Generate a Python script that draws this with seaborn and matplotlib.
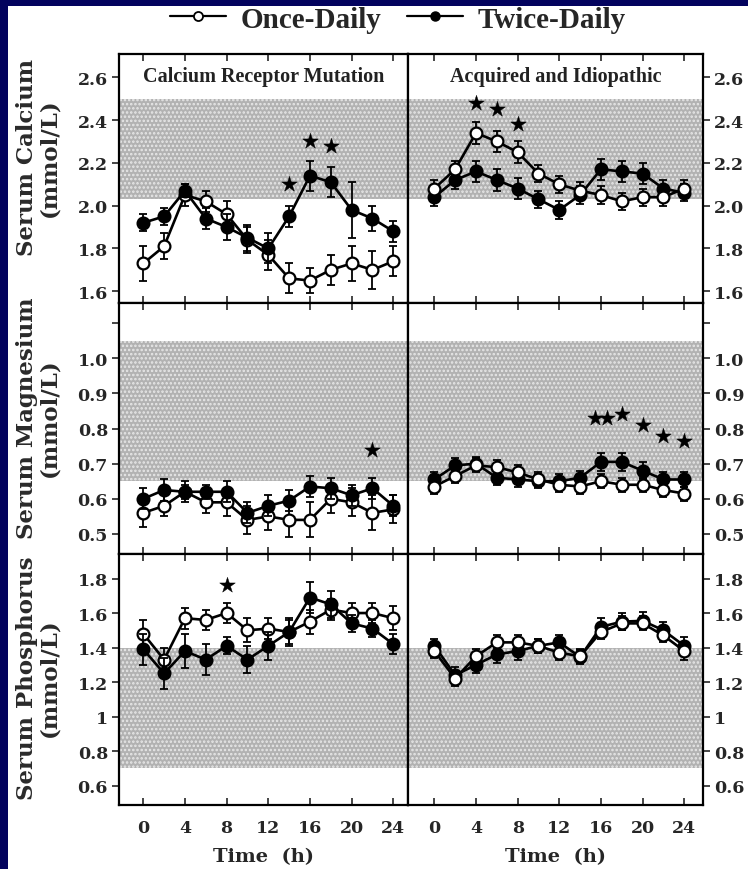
import matplotlib
matplotlib.use("Agg")
import numpy as np
import pandas as pd
import seaborn as sns
import matplotlib.pyplot as plt
from matplotlib.lines import Line2D
from matplotlib.patches import Rectangle

# ---------------- data ----------------
hours = [0, 2, 4, 6, 8, 10, 12, 14, 16, 18, 20, 22, 24]
xtick_vals = [0, 4, 8, 12, 16, 20, 24]

# Serum calcium (mmol/L)
ca_crm_once = [1.73, 1.81, 2.05, 2.02, 1.96, 1.84, 1.77, 1.66, 1.65, 1.70, 1.73, 1.70, 1.74]
ca_crm_once_err = [0.08, 0.06, 0.05, 0.05, 0.06, 0.06, 0.07, 0.07, 0.06, 0.07, 0.08, 0.09, 0.07]
ca_crm_twice = [1.92, 1.95, 2.07, 1.94, 1.90, 1.85, 1.80, 1.95, 2.14, 2.11, 1.98, 1.94, 1.88]
ca_crm_twice_err = [0.04, 0.04, 0.03, 0.05, 0.06, 0.06, 0.07, 0.05, 0.07, 0.07, 0.13, 0.06, 0.05]
ca_ai_once = [2.08, 2.17, 2.34, 2.30, 2.25, 2.15, 2.10, 2.07, 2.05, 2.02, 2.04, 2.04, 2.08]
ca_ai_once_err = [0.04, 0.04, 0.05, 0.05, 0.05, 0.04, 0.04, 0.04, 0.04, 0.04, 0.04, 0.04, 0.04]
ca_ai_twice = [2.04, 2.12, 2.16, 2.12, 2.08, 2.03, 1.98, 2.05, 2.17, 2.16, 2.15, 2.08, 2.06]
ca_ai_twice_err = [0.04, 0.04, 0.05, 0.05, 0.05, 0.04, 0.04, 0.04, 0.05, 0.05, 0.05, 0.04, 0.04]

# Serum magnesium (mmol/L)
mg_crm_once = [0.56, 0.58, 0.62, 0.59, 0.59, 0.54, 0.55, 0.54, 0.54, 0.60, 0.59, 0.56, 0.57]
mg_crm_once_err = [0.04, 0.03, 0.03, 0.03, 0.04, 0.04, 0.04, 0.05, 0.05, 0.04, 0.04, 0.05, 0.04]
mg_crm_twice = [0.60, 0.625, 0.62, 0.62, 0.62, 0.56, 0.58, 0.595, 0.635, 0.63, 0.61, 0.63, 0.58]
mg_crm_twice_err = [0.03, 0.03, 0.02, 0.02, 0.03, 0.03, 0.03, 0.03, 0.03, 0.03, 0.03, 0.03, 0.03]
mg_ai_once = [0.635, 0.665, 0.695, 0.69, 0.675, 0.655, 0.64, 0.635, 0.65, 0.64, 0.64, 0.625, 0.615]
mg_ai_once_err = [0.02, 0.02, 0.02, 0.02, 0.02, 0.02, 0.02, 0.02, 0.02, 0.02, 0.02, 0.02, 0.02]
mg_ai_twice = [0.655, 0.695, 0.70, 0.66, 0.655, 0.65, 0.65, 0.66, 0.705, 0.705, 0.68, 0.655, 0.655]
mg_ai_twice_err = [0.02, 0.02, 0.02, 0.02, 0.02, 0.02, 0.02, 0.02, 0.025, 0.025, 0.025, 0.02, 0.02]

# Serum phosphorus (mmol/L)
ph_crm_once = [1.48, 1.33, 1.57, 1.56, 1.60, 1.50, 1.51, 1.49, 1.55, 1.62, 1.60, 1.60, 1.57]
ph_crm_once_err = [0.08, 0.07, 0.06, 0.06, 0.06, 0.07, 0.06, 0.07, 0.07, 0.06, 0.06, 0.06, 0.07]
ph_crm_twice = [1.39, 1.25, 1.38, 1.33, 1.41, 1.33, 1.41, 1.49, 1.69, 1.65, 1.54, 1.51, 1.42]
ph_crm_twice_err = [0.09, 0.09, 0.10, 0.09, 0.05, 0.08, 0.08, 0.08, 0.09, 0.08, 0.05, 0.05, 0.06]
ph_ai_once = [1.38, 1.22, 1.35, 1.43, 1.43, 1.41, 1.37, 1.35, 1.49, 1.54, 1.54, 1.47, 1.38]
ph_ai_once_err = [0.04, 0.04, 0.04, 0.04, 0.04, 0.04, 0.04, 0.04, 0.04, 0.04, 0.04, 0.04, 0.05]
ph_ai_twice = [1.41, 1.24, 1.30, 1.36, 1.38, 1.41, 1.43, 1.345, 1.52, 1.55, 1.555, 1.50, 1.41]
ph_ai_twice_err = [0.04, 0.05, 0.05, 0.05, 0.05, 0.04, 0.04, 0.04, 0.05, 0.05, 0.05, 0.05, 0.05]

# significance stars (x, y)
stars_ca_crm = ([14, 16, 18], [2.10, 2.30, 2.28])
stars_ca_ai = ([4, 6, 8], [2.48, 2.45, 2.38])
stars_mg_crm = ([22], [0.74])
stars_mg_ai = ([15.4, 16.6, 18, 20, 22, 24], [0.83, 0.83, 0.84, 0.81, 0.78, 0.765])
stars_ph_crm = ([8], [1.76])
stars_ph_ai = ([], [])

# normal ranges
ca_normal = (2.03, 2.50)
mg_normal = (0.65, 1.05)
ph_normal = (0.70, 1.40)

row_labels = ["Serum Calcium\n(mmol/L)", "Serum Magnesium\n(mmol/L)", "Serum Phosphorus\n(mmol/L)"]
panel_titles = ["Calcium Receptor Mutation", "Acquired and Idiopathic"]
legend_labels = ["Once-Daily", "Twice-Daily"]

ca_ticks = [1.6, 1.8, 2.0, 2.2, 2.4, 2.6]
ca_ticklabels = ["1.6", "1.8", "2.0", "2.2", "2.4", "2.6"]
mg_ticks = [0.5, 0.6, 0.7, 0.8, 0.9, 1.0, 1.1]
mg_ticklabels = ["0.5", "0.6", "0.7", "0.8", "0.9", "1.0", ""]
ph_ticks = [0.6, 0.8, 1.0, 1.2, 1.4, 1.6, 1.8]
ph_ticklabels = ["0.6", "0.8", "1", "1.2", "1.4", "1.6", "1.8"]

# ---------------- figure ----------------
sns.set_theme(style="white")
plt.rcParams["font.family"] = ["DejaVu Serif"]
plt.rcParams["hatch.linewidth"] = 1.2

W, H = 748, 870
fig = plt.figure(figsize=(W / 100, H / 100), dpi=100, facecolor="white")


def ax_at(x0, y0, x1, y1):
    return fig.add_axes([x0 / W, 1 - y1 / H, (x1 - x0) / W, (y1 - y0) / H])


rows_px = [(55, 304), (304, 555), (555, 806)]
cols_px = [(119, 408), (408, 703)]
xlims = [(-2.33, 25.41), (-2.53, 25.8)]
ylims = [(1.545, 2.709), (0.443, 1.157), (0.488, 1.942)]
label_centers = [158, 418, 678]

series = [
    [(ca_crm_once, ca_crm_once_err, ca_crm_twice, ca_crm_twice_err, stars_ca_crm),
     (ca_ai_once, ca_ai_once_err, ca_ai_twice, ca_ai_twice_err, stars_ca_ai)],
    [(mg_crm_once, mg_crm_once_err, mg_crm_twice, mg_crm_twice_err, stars_mg_crm),
     (mg_ai_once, mg_ai_once_err, mg_ai_twice, mg_ai_twice_err, stars_mg_ai)],
    [(ph_crm_once, ph_crm_once_err, ph_crm_twice, ph_crm_twice_err, stars_ph_crm),
     (ph_ai_once, ph_ai_once_err, ph_ai_twice, ph_ai_twice_err, stars_ph_ai)],
]
normals = [ca_normal, mg_normal, ph_normal]
yticks = [(ca_ticks, ca_ticklabels), (mg_ticks, mg_ticklabels), (ph_ticks, ph_ticklabels)]

tick_font = dict(family="DejaVu Serif", weight="bold", size=12.5)

for r, (y0, y1) in enumerate(rows_px):
    for c, (x0, x1) in enumerate(cols_px):
        ax = ax_at(x0, y0, x1, y1)
        once, once_err, twice, twice_err, stars = series[r][c]
        lo, hi = normals[r]
        ax.axhspan(lo, hi, facecolor="#b2b2b2", edgecolor="#e8e8e8", hatch="....",
                   linewidth=0, zorder=0)
        df = pd.DataFrame({"t": hours, "once": once, "twice": twice})
        order = [("once", once_err, "white"), ("twice", twice_err, "black")]
        if c == 1:
            order = order[::-1]
        for k, (col, err, face) in enumerate(order):
            z = 3 + 2 * k
            ax.errorbar(df["t"], df[col], yerr=err, fmt="none", ecolor="black",
                        elinewidth=1.3, capsize=3.2, capthick=1.3, zorder=z)
            sns.lineplot(data=df, x="t", y=col, ax=ax, color="black", linewidth=1.9,
                         marker="o", markersize=8.5, markerfacecolor=face,
                         markeredgecolor="black", markeredgewidth=1.6, zorder=z + 1,
                         legend=False, errorbar=None)
        if len(stars[0]):
            sns.scatterplot(x=stars[0], y=stars[1], ax=ax, marker="*", s=140,
                            color="black", edgecolor="black", linewidth=0.3, zorder=8,
                            legend=False)
        ax.set_xlim(*xlims[c])
        ax.set_ylim(*ylims[r])
        ax.set_xlabel("")
        ax.set_ylabel("")
        ax.set_xticks(xtick_vals)
        ax.tick_params(axis="x", direction="in", length=5, width=1.2, top=True,
                       bottom=True, labelbottom=(r == 2), pad=10)
        if r == 2:
            ax.set_xticklabels([str(v) for v in xtick_vals], fontdict=tick_font, fontsize=13)
        ax.set_yticks(yticks[r][0])
        ax.set_yticklabels(yticks[r][1], fontdict=tick_font)
        if c == 0:
            ax.tick_params(axis="y", direction="out", length=5, width=1.2, left=True,
                           right=False, labelleft=True, labelright=False, pad=3)
        else:
            ax.tick_params(axis="y", direction="out", length=5, width=1.2, left=False,
                           right=True, labelleft=False, labelright=True, pad=3)
        for sp in ax.spines.values():
            sp.set_linewidth(1.6)
            sp.set_color("black")
        ax.set_facecolor("white")
        if r == 0:
            ax.text(0.5, 0.91, panel_titles[c], transform=ax.transAxes, ha="center",
                    va="center", family="Liberation Serif", weight="bold", fontsize=14.5,
                    color="#222222")
        if r == 2:
            ax.text(0.5, -0.205, "Time  (h)", transform=ax.transAxes, ha="center",
                    va="center", family="DejaVu Serif", weight="bold", fontsize=14)

# row labels
for r in range(3):
    fig.text(38 / W, 1 - label_centers[r] / H, row_labels[r], rotation=90, ha="center",
             va="center", multialignment="center", family="DejaVu Serif",
             weight="bold", fontsize=16.5, linespacing=1.05, color="#2a2a2a")

# legend
handles = [
    Line2D([], [], color="black", lw=1.6, marker="o", markersize=6.5,
           markerfacecolor="white", markeredgecolor="black", markeredgewidth=1.3),
    Line2D([], [], color="black", lw=1.6, marker="o", markersize=6.5,
           markerfacecolor="black", markeredgecolor="black"),
]
fig.legend(handles, legend_labels, loc="center", bbox_to_anchor=(398 / W, 1 - 20 / H),
           ncol=2, frameon=False, prop=dict(family="Liberation Serif", weight="bold", size=21),
           handlelength=1.9, handletextpad=0.5, columnspacing=0.9)

# navy slide border
fig.add_artist(Rectangle((0, 0), 8 / W, 1, transform=fig.transFigure,
                         facecolor="#03035e", edgecolor="none", zorder=20))
fig.add_artist(Rectangle((0, 1 - 7 / H), 1, 7 / H, transform=fig.transFigure,
                         facecolor="#03035e", edgecolor="none", zorder=20))

fig.savefig("out.png", dpi=100, facecolor="white")
